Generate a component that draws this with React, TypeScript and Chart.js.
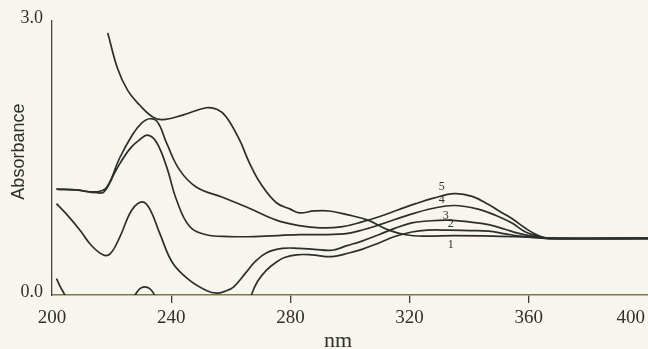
import { useEffect, useRef } from 'react';
import { Chart, registerables } from 'chart.js';

Chart.register(...registerables);

// ---- data (wavelength in nm, absorbance) ----
const curve1Nm = [218.7, 222, 225.4, 229.4, 233.8, 237.1, 243.8, 251.8, 255.5, 258.5, 262.9, 266.2, 270, 275.3, 280, 283, 288, 293, 299, 306, 313, 318.7, 325, 335, 348, 358, 364, 368, 400];
const curve1Abs = [2.87, 2.48, 2.24, 2.08, 1.95, 1.92, 1.97, 2.05, 2.03, 1.95, 1.7, 1.45, 1.22, 1.01, 0.94, 0.9, 0.92, 0.92, 0.88, 0.82, 0.71, 0.66, 0.645, 0.65, 0.645, 0.635, 0.625, 0.62, 0.62];

const curve2Nm = [201.5, 202.8, 204.3, 207, 213, 219, 224, 227.8, 229.5, 231.1, 232.8, 234.4, 238, 245, 255, 262, 266.9, 269, 271.9, 275.3, 278, 282, 287, 294, 299.7, 304, 309.7, 315, 320.7, 326, 333, 340, 346.5, 352, 357, 362, 367, 400];
const curve2Abs = [0.18, 0.09, 0.0, -0.2, -0.45, -0.4, -0.15, 0.0, 0.07, 0.09, 0.07, 0.0, -0.3, -0.7, -0.9, -0.5, 0.0, 0.15, 0.27, 0.36, 0.41, 0.44, 0.44, 0.42, 0.46, 0.5, 0.57, 0.64, 0.69, 0.71, 0.71, 0.705, 0.7, 0.67, 0.645, 0.63, 0.62, 0.62];

const curve3Nm = [201.5, 205, 209.4, 213, 217.1, 219.5, 222.7, 226.8, 230.4, 233, 236.1, 240.5, 246.2, 251.8, 255.2, 258, 261, 265.2, 268, 271.9, 277.3, 283, 288, 294, 299, 304, 309.7, 315, 320.7, 326, 333, 340, 346.5, 352, 356, 360, 364, 367, 400];
const curve3Abs = [1.0, 0.88, 0.71, 0.55, 0.44, 0.45, 0.63, 0.93, 1.02, 0.93, 0.68, 0.35, 0.16, 0.05, 0.02, 0.04, 0.09, 0.25, 0.36, 0.46, 0.51, 0.51, 0.5, 0.49, 0.54, 0.59, 0.66, 0.73, 0.79, 0.81, 0.82, 0.8, 0.77, 0.72, 0.68, 0.65, 0.63, 0.62, 0.62];

const curve4Nm = [201.5, 208, 215, 217.5, 221.7, 226.1, 229.4, 232.1, 235.1, 238.5, 241.8, 246.2, 251.8, 259.5, 268, 283, 298, 305, 310, 320, 328, 335, 343, 349, 354.2, 358.9, 363.6, 367, 400];
const curve4Abs = [1.16, 1.15, 1.12, 1.13, 1.38, 1.6, 1.7, 1.75, 1.67, 1.4, 1.04, 0.75, 0.66, 0.64, 0.64, 0.66, 0.67, 0.72, 0.77, 0.88, 0.95, 0.98, 0.94, 0.87, 0.79, 0.69, 0.64, 0.62, 0.62];

const curve5Nm = [201.5, 208, 215, 218.4, 222.7, 227.1, 230, 232.8, 235.5, 238.5, 242.8, 248.5, 257.2, 266.2, 275.3, 283, 290, 297, 304, 310, 316, 322, 328, 335, 341, 346.5, 351, 354.2, 358.9, 363.2, 366.5, 400];
const curve5Abs = [1.16, 1.15, 1.13, 1.18, 1.5, 1.76, 1.88, 1.93, 1.89, 1.66, 1.37, 1.18, 1.07, 0.95, 0.82, 0.76, 0.735, 0.745, 0.8, 0.86, 0.93, 1.0, 1.06, 1.11, 1.08, 0.99, 0.9, 0.84, 0.73, 0.65, 0.62, 0.62];

// curve number labels
const curveLabels = ['5', '4', '3', '2', '1'];
const curveLabelNm = [330.8, 330.8, 332.1, 333.8, 333.8];
const curveLabelAbs = [1.18, 1.04, 0.865, 0.78, 0.55];

// axis
const xTicks = [200, 240, 280, 320, 360, 400];
const yTicks = [0, 3];
const xTitle = 'nm';
const yTitle = 'Absorbance';

const LINE = '#2b2f2b';
const TEXT = '#2e302c';

function toPoints(nm: number[], abs: number[]) {
  return nm.map((v, i) => ({ x: v, y: abs[i] }));
}

const extraText = {
  id: 'extraText',
  afterDraw(chart: any) {
    const { ctx, scales } = chart;
    const x = scales.x;
    const y = scales.y;
    ctx.save();
    ctx.fillStyle = TEXT;
    // curve numbers
    ctx.font = '12px "Liberation Serif"';
    ctx.textAlign = 'center';
    ctx.textBaseline = 'middle';
    curveLabels.forEach((t, i) => {
      ctx.fillText(t, x.getPixelForValue(curveLabelNm[i]), y.getPixelForValue(curveLabelAbs[i]));
    });
    // last x tick label, kept inside the canvas
    ctx.font = '19px "Liberation Serif"';
    ctx.textAlign = 'right';
    ctx.textBaseline = 'middle';
    ctx.fillText(String(xTicks[xTicks.length - 1]), x.right - 3, x.top + 23.5);
    // x title
    ctx.font = '22px "Liberation Serif"';
    ctx.textAlign = 'center';
    ctx.fillText(xTitle, x.getPixelForValue(296), x.bottom - 8);
    // y title
    ctx.translate(19, y.getPixelForValue(1.57));
    ctx.rotate(-Math.PI / 2);
    ctx.font = '18px "Liberation Sans"';
    ctx.textAlign = 'center';
    ctx.textBaseline = 'middle';
    ctx.fillText(yTitle, 0, 0);
    ctx.restore();
  },
};

export default function App() {
  const ref = useRef<HTMLCanvasElement | null>(null);

  useEffect(() => {
    if (!ref.current) return;
    const series = [
      toPoints(curve1Nm, curve1Abs),
      toPoints(curve2Nm, curve2Abs),
      toPoints(curve3Nm, curve3Abs),
      toPoints(curve4Nm, curve4Abs),
      toPoints(curve5Nm, curve5Abs),
    ];
    const chart = new Chart(ref.current, {
      type: 'line',
      data: {
        datasets: series.map((d, i) => ({
          label: String(i + 1),
          data: d,
          borderColor: LINE,
          borderWidth: 1.7,
          pointRadius: 0,
          fill: false,
          tension: 0.4,
        })),
      },
      options: {
        responsive: false,
        animation: false,
        devicePixelRatio: 1,
        layout: { padding: { top: 21, left: 0, right: 0, bottom: 0 } },
        plugins: { legend: { display: false }, tooltip: { enabled: false } },
        scales: {
          x: {
            type: 'linear',
            min: xTicks[0],
            max: xTicks[xTicks.length - 1],
            afterBuildTicks: (s: any) => {
              s.ticks = xTicks.map((v) => ({ value: v }));
            },
            ticks: {
              font: { family: 'Liberation Serif', size: 19 },
              color: TEXT,
              padding: 4,
              maxRotation: 0,
              autoSkip: false,
              callback: (v: any) => (v === xTicks[xTicks.length - 1] ? '' : String(v)),
            },
            grid: {
              display: true,
              drawOnChartArea: false,
              drawTicks: true,
              tickLength: 8,
              lineWidth: 1.3,
              color: (c: any) =>
                c.tick && (c.tick.value === xTicks[0] || c.tick.value === xTicks[xTicks.length - 1])
                  ? 'rgba(0,0,0,0)'
                  : '#3a3a3a',
            },
            border: { display: true, color: '#7e7a48', width: 1.6 },
            afterFit: (s: any) => {
              s.height = 54;
              s.paddingLeft = 0;
              s.paddingRight = 0;
            },
          },
          y: {
            type: 'linear',
            min: yTicks[0],
            max: yTicks[1],
            afterBuildTicks: (s: any) => {
              s.ticks = yTicks.map((v) => ({ value: v }));
            },
            ticks: {
              font: { family: 'Liberation Serif', size: 18 },
              color: TEXT,
              padding: 9,
              labelOffset: -3,
              callback: (v: any) => Number(v).toFixed(1),
            },
            grid: { display: true, drawOnChartArea: false, drawTicks: false },
            border: { display: true, color: '#444', width: 1.3 },
            afterFit: (s: any) => {
              s.width = 52;
              s.paddingTop = 0;
              s.paddingBottom = 0;
            },
          },
        },
      },
      plugins: [extraText],
    });
    return () => chart.destroy();
  }, []);

  return (
    <div style={{ position: 'absolute', left: 0, top: 0, width: 648, height: 349, background: '#f8f5ef' }}>
      <canvas ref={ref} width={648} height={349} style={{ display: 'block', width: 648, height: 349 }} />
    </div>
  );
}
